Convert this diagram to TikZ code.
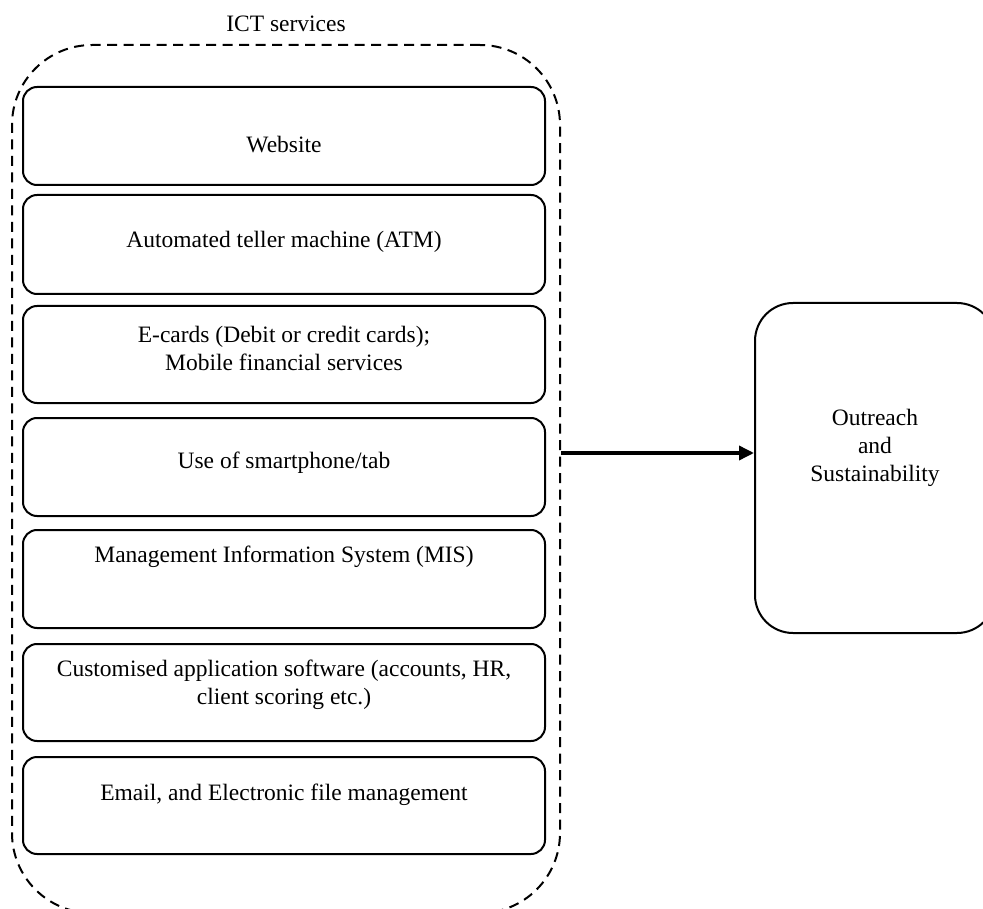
\documentclass[tikz,border=0pt]{standalone}
\usepackage{fontspec}
\setmainfont{Liberation Serif}
\usetikzlibrary{positioning,arrows.meta}

\tikzset{
  svcbox/.style={draw, line width=2pt, rounded corners=14pt, minimum width=522pt, inner sep=0pt},
  ictframe/.style={draw, dash pattern=on 10pt off 6.5pt, line width=2pt, rounded corners=80pt,
    minimum width=548pt, minimum height=868pt, inner sep=0pt},
  outbox/.style={draw, line width=2pt, rounded corners=38pt, minimum width=240pt,
    minimum height=330pt, inner sep=0pt},
  txt/.style={align=center, font=\fontsize{23.5}{28}\selectfont},
  flow/.style={-{Triangle[length=15pt,width=14pt]}, line width=3.5pt}
}

\begin{document}
\begin{tikzpicture}[x=1pt,y=-1pt]
    \useasboundingbox (0,0) rectangle (983,909);
    \clip (0,0) rectangle (983,909);

    % Frame
    \node[ictframe] (ict) at (286,479) {};
    \node[txt, above=9pt of ict] (ictlbl) {ICT services};

    % Services
    \node[svcbox, minimum height=98] (web) at (284,136) {};
    \node[txt] (webtxt) at ([yshift=-9]web.center) {Website};
    \node[svcbox, minimum height=99] (atm) at (284,244.5) {};
    \node[txt] (atmtxt) at ([yshift=2.5]atm.center) {Automated teller machine (ATM)};
    \node[svcbox, minimum height=97] (card) at (284,354.5) {};
    \node[txt] (cardtxt) at ([yshift=6]card.center) {E-cards (Debit or credit cards);\\Mobile financial services};
    \node[svcbox, minimum height=98] (phone) at (284,467) {};
    \node[txt] (phonetxt) at ([yshift=4]phone.center) {Use of smartphone/tab};
    \node[svcbox, minimum height=98] (mis) at (284,579) {};
    \node[txt] (mistxt) at ([yshift=22]mis.center) {Management Information System (MIS)};
    \node[svcbox, minimum height=97] (soft) at (284,692.5) {};
    \node[txt] (softtxt) at ([yshift=7.5]soft.center) {Customised application software (accounts, HR,\\client scoring etc.)};
    \node[svcbox, minimum height=97] (mail) at (284,805.5) {};
    \node[txt] (mailtxt) at ([yshift=10.5]mail.center) {Email, and Electronic file management};

    % Outcome
    \node[outbox] (out) at (875,468) {};
    \node[txt] (outtxt) at ([yshift=20]out.center) {Outreach\\and\\Sustainability};

    % Link
    \coordinate (arrow) at (0,453);
    \draw[flow] (ict.east |- arrow) -- (out.west |- arrow);
\end{tikzpicture}
\end{document}
